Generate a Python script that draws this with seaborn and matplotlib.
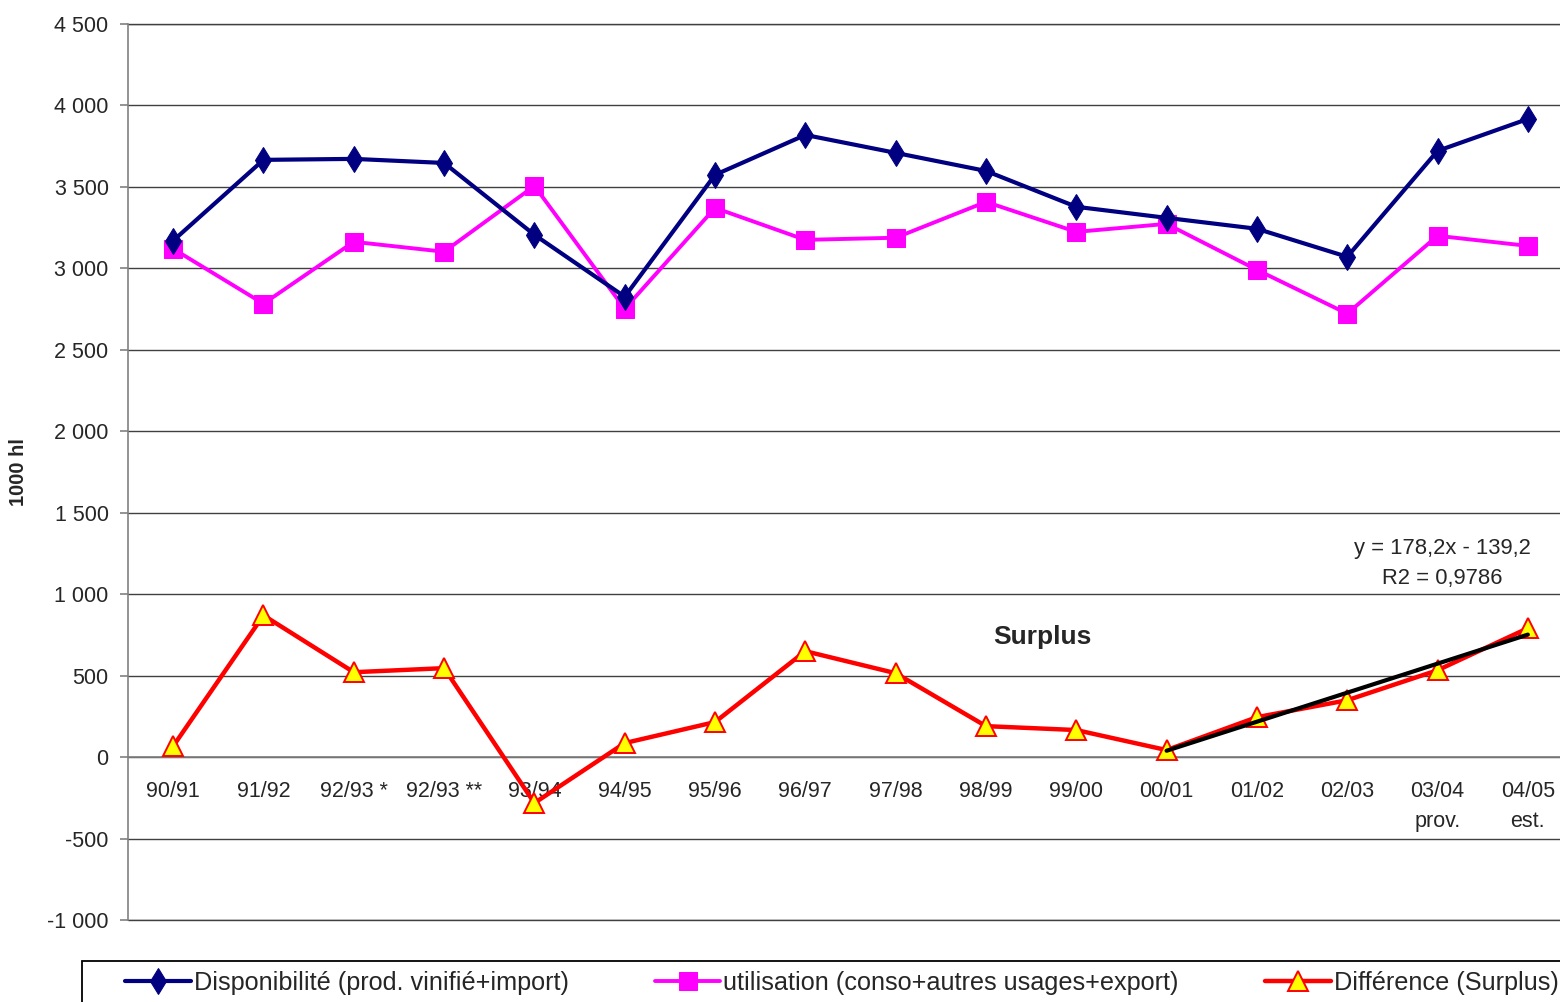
import numpy as np
import pandas as pd
import matplotlib
matplotlib.use("Agg")
import matplotlib.pyplot as plt
from matplotlib.patches import Rectangle
from matplotlib.ticker import FuncFormatter, FixedLocator
import seaborn as sns

# -----------------------------
# DATA
# -----------------------------
campagnes = ["90/91", "91/92", "92/93 *", "92/93 **", "93/94", "94/95", "95/96",
             "96/97", "97/98", "98/99", "99/00", "00/01", "01/02", "02/03",
             "03/04\nprov.", "04/05\nest."]

disponibilite = [3170, 3666, 3672, 3647, 3206, 2826, 3574, 3819, 3709, 3598,
                 3378, 3310, 3243, 3071, 3721, 3917]
utilisation = [3120, 2783, 3163, 3102, 3506, 2752, 3371, 3175, 3188, 3408,
               3224, 3273, 2991, 2722, 3200, 3138]
difference = [67, 870, 521, 546, -282, 86, 215, 650, 515, 190,
              166, 43, 245, 349, 533, 791]

# linear trend on the last five seasons (as shown in the chart)
trend_start = 11
trend_slope = 178.2
trend_intercept = -139.2

label_dispo = "Disponibilité (prod. vinifié+import)"
label_util = "utilisation (conso+autres usages+export)"
label_diff = "Différence (Surplus)"

# -----------------------------
# STYLE
# -----------------------------
sns.set_style("white")
plt.rcParams["font.family"] = ["Liberation Sans", "DejaVu Sans"]
FS = 15.5

fig = plt.figure(figsize=(15.6, 10.02), dpi=100)
ax = fig.add_axes([128 / 1560, 1 - 920 / 1002, 1445 / 1560, 896 / 1002])

x = np.arange(len(campagnes))

sns.lineplot(x=x, y=disponibilite, ax=ax, color="#000080", lw=3.0,
             marker="d", markersize=13, markeredgecolor="#000080",
             label=label_dispo, zorder=4)
sns.lineplot(x=x, y=utilisation, ax=ax, color="#FF00FF", lw=2.8,
             marker="s", markersize=13, markeredgecolor="#FF00FF",
             label=label_util, zorder=3)
sns.lineplot(x=x, y=difference, ax=ax, color="#FF0000", lw=3.2,
             marker="^", markersize=15, markerfacecolor="#FFFF00",
             markeredgecolor="#FF0000", markeredgewidth=1.4,
             label=label_diff, zorder=5)

# trend line
xt = np.arange(trend_start, len(campagnes))
yt = trend_slope * (xt - trend_start + 1) + trend_intercept
ax.plot(xt, yt, color="black", lw=3.0, zorder=6)

# -----------------------------
# AXES
# -----------------------------
ax.set_xlim(-0.5, len(campagnes) - 0.5)
ax.set_ylim(-1000, 4500)
ax.set_yticks(np.arange(-1000, 4501, 500))
ax.yaxis.set_major_formatter(
    FuncFormatter(lambda v, p: f"{int(v):,}".replace(",", " ")))
ax.grid(axis="y", color="#404040", lw=1.0)
ax.grid(axis="x", visible=False)
ax.axhline(-1000, color="#404040", lw=1.0, clip_on=False, zorder=1)
ax.axhline(4500, color="#404040", lw=1.0, clip_on=False, zorder=1)

for s in ["top", "right"]:
    ax.spines[s].set_visible(False)
ax.spines["left"].set_color("#808080")
ax.spines["left"].set_linewidth(1.2)
ax.spines["bottom"].set_position(("data", 0))
ax.spines["bottom"].set_color("#808080")
ax.spines["bottom"].set_linewidth(1.2)

ax.set_xticks(x)
ax.set_xticklabels(campagnes, fontsize=FS, linespacing=1.6)
ax.xaxis.set_minor_locator(FixedLocator(np.arange(-0.5, len(campagnes), 1)))
ax.tick_params(axis="x", which="major", length=0, pad=17)
ax.tick_params(axis="x", which="minor", length=6, color="#808080", width=1.2,
               direction="out")
ax.tick_params(axis="y", length=6, color="#808080", width=1.2,
               labelsize=FS, pad=8, left=True)

ax.set_xlabel("")
ax.set_ylabel("1000 hl", fontsize=FS - 1, fontweight="bold", labelpad=14)

# annotations
ax.text(9.63, 735, "Surplus", fontsize=19, fontweight="bold",
        ha="center", va="center")
ax.text(14.05, 1281, "y = 178,2x - 139,2", fontsize=15.8,
        ha="center", va="center")
ax.text(14.05, 1097, "R2 = 0,9786", fontsize=15.8,
        ha="center", va="center")

# -----------------------------
# LEGEND
# -----------------------------
handles, labels = ax.get_legend_handles_labels()
ax.get_legend().remove()
leg = fig.legend(handles, labels, loc="center left",
                 bbox_to_anchor=(125 / 1560, 1 - 983 / 1002),
                 ncol=3, fontsize=18.2, frameon=False,
                 handlelength=2.6, handletextpad=0.12,
                 columnspacing=3.4, borderpad=0, borderaxespad=0)
fig.patches.append(Rectangle((82 / 1560, -0.05), 1.0, 0.05 + 41 / 1002,
                             transform=fig.transFigure, fill=False,
                             edgecolor="black", lw=1.3))

fig.savefig("out.png", dpi=100)
